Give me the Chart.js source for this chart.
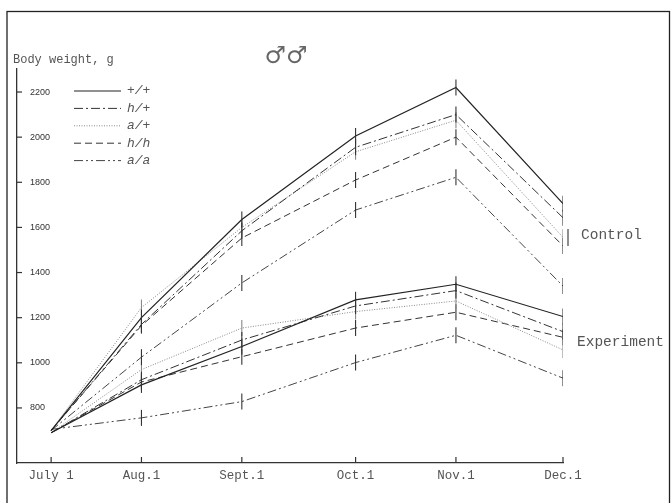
<!DOCTYPE html>
<html>
<head>
<meta charset="utf-8">
<script src="https://cdn.jsdelivr.net/npm/chart.js@4.4.1/dist/chart.umd.min.js"></script>
<style>
  body { margin: 0; background: #fff; }
  #wrap { width: 671px; height: 503px; }
</style>
</head>
<body>
<div id="wrap"><canvas id="chart" width="671" height="503"></canvas></div>
<script>
// sampling dates, days after July 1 (as placed in the figure)
const sampleDays = [0, 27, 57, 91, 121, 153];
const monthLabels = ['July 1', 'Aug.1', 'Sept.1', 'Oct.1', 'Nov.1', 'Dec.1'];
const genotypes = ['+/+', 'h/+', 'a/+', 'h/h', 'a/a'];
const yTickValues = [800, 1000, 1200, 1400, 1600, 1800, 2000, 2200];

// body weight, g - control group
const controlWt  = [700, 1200, 1635, 2005, 2220, 1705];
const controlHet = [700, 1170, 1585, 1955, 2100, 1643];
const controlA   = [700, 1245, 1600, 1935, 2075, 1556];
const controlHH  = [700, 1165, 1553, 1810, 2000, 1518];
const controlAA  = [700, 1025, 1354, 1677, 1822, 1340];

// body weight, g - experiment group
const expWt  = [690, 902, 1072, 1279, 1348, 1205];
const expHet = [690, 925, 1101, 1252, 1320, 1138];
const expA   = [690, 970, 1154, 1227, 1274, 1057];
const expHH  = [690, 915, 1027, 1154, 1224, 1113];
const expAA  = [705, 756, 828, 1001, 1122, 932];

const lineStyles = [
  { color: '#222', dash: [], width: 1.2 },
  { color: '#333', dash: [9, 3, 2, 3], width: 1 },
  { color: '#888', dash: [1, 1.5], width: 1 },
  { color: '#333', dash: [7, 4], width: 1 },
  { color: '#444', dash: [9, 3, 2, 3, 2, 3], width: 1 }
];

const makeSet = (name, values, idx) => ({
  label: name,
  data: values.map((v, i) => ({ x: sampleDays[i], y: v })),
  borderColor: lineStyles[idx].color,
  borderDash: lineStyles[idx].dash,
  borderWidth: lineStyles[idx].width,
  pointStyle: 'line',
  rotation: 90,
  pointRadius: ctx => ctx.dataIndex === 0 ? 0 : 8,
  pointBorderColor: idx === 2 ? '#888' : '#333',
  pointBorderWidth: 1.1,
  fill: false,
  tension: 0
});

const datasets = [
  makeSet('+/+', controlWt, 0),
  makeSet('h/+', controlHet, 1),
  makeSet('a/+', controlA, 2),
  makeSet('h/h', controlHH, 3),
  makeSet('a/a', controlAA, 4),
  makeSet('+/+ exp', expWt, 0),
  makeSet('h/+ exp', expHet, 1),
  makeSet('a/+ exp', expA, 2),
  makeSet('h/h exp', expHH, 3),
  makeSet('a/a exp', expAA, 4)
];

// frame, inward ticks, legend and free text
const decorations = {
  id: 'decorations',
  afterDraw(chart) {
    const ctx = chart.ctx;
    const area = chart.chartArea;
    const xs = chart.scales.x, ys = chart.scales.y;
    ctx.save();

    ctx.strokeStyle = '#222';
    ctx.lineWidth = 1.3;
    ctx.strokeRect(7, 11.5, 662.5, 500);

    ctx.strokeStyle = '#333';
    ctx.lineWidth = 1.2;
    yTickValues.forEach(v => {
      const y = ys.getPixelForValue(v);
      ctx.beginPath(); ctx.moveTo(area.left, y); ctx.lineTo(area.left + 5, y); ctx.stroke();
    });
    sampleDays.forEach(d => {
      const x = xs.getPixelForValue(d);
      ctx.beginPath(); ctx.moveTo(x, area.bottom); ctx.lineTo(x, area.bottom - 6); ctx.stroke();
    });

    ctx.fillStyle = '#555';
    ctx.font = '12px "Liberation Mono", monospace';
    ctx.textBaseline = 'alphabetic';
    ctx.textAlign = 'left';
    ctx.fillText('Body weight, g', 13, 63);

    ctx.font = '24px "DejaVu Sans", sans-serif';
    ctx.textBaseline = 'middle';
    ctx.textAlign = 'center';
    ctx.fillStyle = '#666';
    ctx.fillText('\u2642\u2642', 286, 57);

    // legend
    ctx.textAlign = 'left';
    ctx.font = 'italic 13px "Liberation Mono", monospace';
    genotypes.forEach((g, i) => {
      const y = 91 + i * 17.4;
      const st = lineStyles[i];
      ctx.strokeStyle = st.color;
      ctx.lineWidth = st.width;
      ctx.setLineDash(st.dash);
      ctx.beginPath(); ctx.moveTo(74, y); ctx.lineTo(121, y); ctx.stroke();
      ctx.setLineDash([]);
      ctx.fillStyle = '#555';
      ctx.fillText(g, 127, y);
    });

    ctx.font = '14.5px "Liberation Mono", monospace';
    ctx.fillStyle = '#555';
    ctx.fillText('Control', 581, 235);
    ctx.fillText('Experiment', 577, 342);
    ctx.strokeStyle = '#333';
    ctx.lineWidth = 1.1;
    ctx.beginPath(); ctx.moveTo(568, 229); ctx.lineTo(568, 246); ctx.stroke();

    ctx.restore();
  }
};

new Chart(document.getElementById('chart'), {
  type: 'line',
  data: { datasets: datasets },
  options: {
    responsive: false,
    animation: false,
    layout: { padding: { left: 17, right: 108, top: 69, bottom: 0 } },
    plugins: { legend: { display: false }, tooltip: { enabled: false } },
    scales: {
      x: {
        type: 'linear',
        min: -10.2,
        max: 153,
        grid: { display: false, drawTicks: false },
        border: { display: true, color: '#333', width: 1.3 },
        afterFit: s => { s.height = 40; },
        afterBuildTicks: s => { s.ticks = sampleDays.map(d => ({ value: d })); },
        ticks: {
          padding: 5,
          maxRotation: 0,
          autoSkip: false,
          color: '#555',
          font: { family: '"Liberation Mono", monospace', size: 12.5 },
          callback: v => monthLabels[sampleDays.indexOf(v)]
        }
      },
      y: {
        min: 556,
        max: 2302,
        grid: { display: false, drawTicks: false },
        border: { display: true, color: '#333', width: 1.3 },
        afterFit: s => { s.width = 0; },
        afterBuildTicks: s => { s.ticks = yTickValues.map(v => ({ value: v })); },
        ticks: {
          mirror: true,
          padding: 13,
          color: '#333',
          font: { family: '"Liberation Sans", Arial, sans-serif', size: 9 },
          callback: v => String(v)
        }
      }
    }
  },
  plugins: [decorations]
});
</script>
</body>
</html>
